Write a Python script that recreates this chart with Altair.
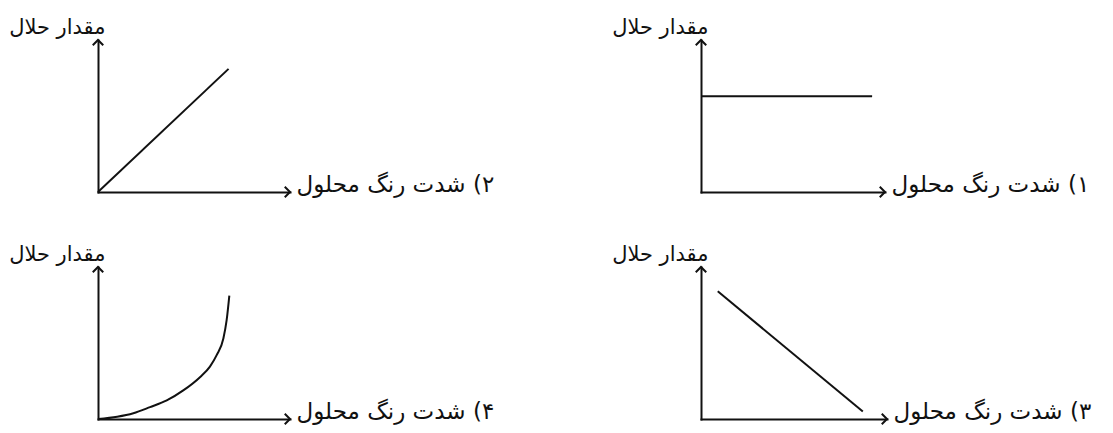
import altair as alt
import pandas as pd

FONT = "DejaVu Sans"
INK = "#111111"
FS_Y = 21
FS_X = 23
RLM = "\u200f"

Y_TITLE = "مقدار حلال"
X_TITLE_2 = "۲) شدت رنگ محلول"
X_TITLE_1 = "۱) شدت رنگ محلول"
X_TITLE_4 = "۴) شدت رنگ محلول"
X_TITLE_3 = "۳) شدت رنگ محلول"

AXIS_MIN = 0.0
AXIS_MAX = 10.0

# panel 2 (top-left): rising straight line
p2_x = [0.0, 6.8]
p2_y = [0.0, 8.1]
# panel 1 (top-right): constant
p1_x = [0.0, 9.3]
p1_y = [6.3, 6.3]
# panel 4 (bottom-left): rising curve
p4_x = [0.0, 1.0, 1.84, 2.71, 3.58, 4.44, 5.31, 5.83, 6.18, 6.53, 6.70, 6.84]
p4_y = [0.0, 0.15, 0.38, 0.78, 1.22, 1.88, 2.75, 3.45, 4.2, 5.3, 6.5, 8.12]
# panel 3 (bottom-right): falling straight line
p3_x = [0.9, 8.7]
p3_y = [8.4, 0.5]

UP_HEAD = "M-1,1L0,0L1,1"
RIGHT_HEAD = "M-1,-1L0,0L-1,1"
PANEL_H = 152


def panel(xs, ys, x_title, width, interpolate="linear"):
    data = pd.DataFrame({"x": xs, "y": ys})
    xsc = alt.Scale(domain=[AXIS_MIN, AXIS_MAX], nice=False, zero=False)
    ysc = alt.Scale(domain=[AXIS_MIN, AXIS_MAX], nice=False, zero=False)
    common = dict(domain=True, domainColor=INK, domainWidth=2, domainCap="square",
                  ticks=False, labels=False, grid=False, titleAngle=0,
                  titleFont=FONT, titleFontWeight="normal",
                  titleColor=INK, titleBaseline="alphabetic")
    x_axis = alt.Axis(title=RLM + x_title, titleAlign="left", titleX=width + 6, titleY=-1,
                      titleFontSize=FS_X, **common)
    y_axis = alt.Axis(title=Y_TITLE, titleAlign="right", titleX=7, titleY=-7,
                      titleFontSize=FS_Y, **common)
    enc_x = alt.X("x:Q", scale=xsc, axis=x_axis)
    enc_y = alt.Y("y:Q", scale=ysc, axis=y_axis)
    curve = alt.Chart(data).mark_line(color=INK, strokeWidth=2, interpolate=interpolate).encode(
        x=enc_x, y=enc_y)
    right_head = alt.Chart(pd.DataFrame({"x": [AXIS_MAX], "y": [AXIS_MIN]})).mark_point(
        shape=RIGHT_HEAD, size=110, filled=False, color=INK, strokeWidth=2, opacity=1
    ).encode(x=enc_x, y=enc_y)
    up_head = alt.Chart(pd.DataFrame({"x": [AXIS_MIN], "y": [AXIS_MAX]})).mark_point(
        shape=UP_HEAD, size=110, filled=False, color=INK, strokeWidth=2, opacity=1
    ).encode(x=enc_x, y=enc_y)
    return alt.layer(curve, right_head, up_head).properties(width=width, height=PANEL_H)


pA = panel(p2_x, p2_y, X_TITLE_2, 192)
pB = panel(p1_x, p1_y, X_TITLE_1, 184)
pC = panel(p4_x, p4_y, X_TITLE_4, 192, interpolate="monotone")
pD = panel(p3_x, p3_y, X_TITLE_3, 186)

chart = alt.concat(pA, pB, pC, pD, columns=2, spacing={"row": 75, "column": 411}).properties(
    bounds="flush",
    padding={"left": 0, "top": 7, "right": 5, "bottom": 5},
    background="white",
).configure_view(stroke="transparent")

chart.save("out.html", embed_options={"renderer": "svg", "actions": False})
